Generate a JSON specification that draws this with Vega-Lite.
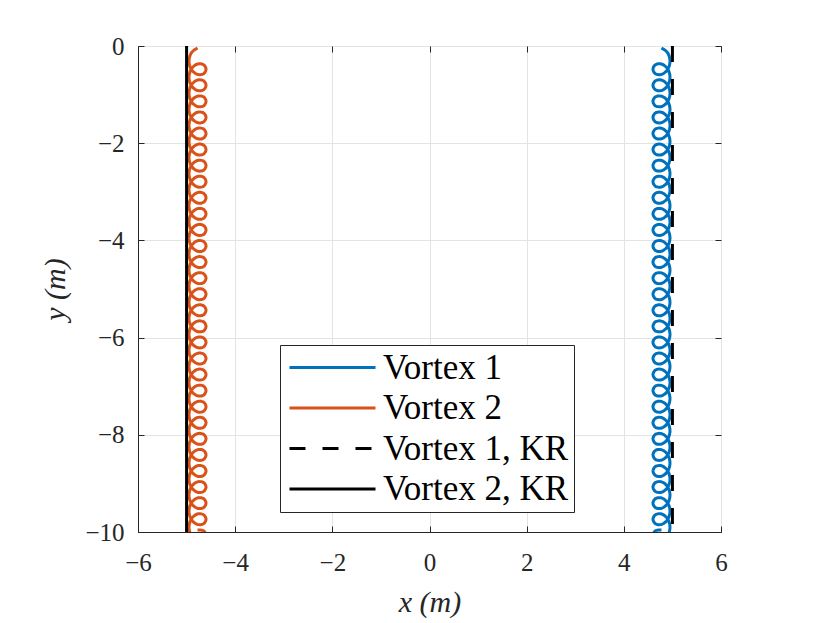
{
  "$schema": "https://vega.github.io/schema/vega-lite/v6.json",
  "width": 583,
  "height": 486,
  "autosize": {"type": "none"},
  "padding": {"left": 138, "top": 46, "right": 109, "bottom": 91},
  "background": "white",
  "config": {
    "view": {"stroke": "#262626", "strokeWidth": 1},
    "font": "Liberation Serif"
  },
  "datasets": {
    "loops": [
      {"k":0,"Vortex 1":4.775,"Vortex 2":-4.775,"y":-0.040},
      {"k":1,"Vortex 1":4.899,"Vortex 2":-4.899,"y":-0.137},
      {"k":2,"Vortex 1":4.95,"Vortex 2":-4.95,"y":-0.313},
      {"k":3,"Vortex 1":4.899,"Vortex 2":-4.899,"y":-0.488},
      {"k":4,"Vortex 1":4.775,"Vortex 2":-4.775,"y":-0.585},
      {"k":5,"Vortex 1":4.651,"Vortex 2":-4.651,"y":-0.571},
      {"k":6,"Vortex 1":4.6,"Vortex 2":-4.6,"y":-0.478},
      {"k":7,"Vortex 1":4.651,"Vortex 2":-4.651,"y":-0.385},
      {"k":8,"Vortex 1":4.775,"Vortex 2":-4.775,"y":-0.371},
      {"k":9,"Vortex 1":4.899,"Vortex 2":-4.899,"y":-0.468},
      {"k":10,"Vortex 1":4.95,"Vortex 2":-4.95,"y":-0.644},
      {"k":11,"Vortex 1":4.899,"Vortex 2":-4.899,"y":-0.819},
      {"k":12,"Vortex 1":4.775,"Vortex 2":-4.775,"y":-0.916},
      {"k":13,"Vortex 1":4.651,"Vortex 2":-4.651,"y":-0.902},
      {"k":14,"Vortex 1":4.6,"Vortex 2":-4.6,"y":-0.809},
      {"k":15,"Vortex 1":4.651,"Vortex 2":-4.651,"y":-0.716},
      {"k":16,"Vortex 1":4.775,"Vortex 2":-4.775,"y":-0.701},
      {"k":17,"Vortex 1":4.899,"Vortex 2":-4.899,"y":-0.798},
      {"k":18,"Vortex 1":4.95,"Vortex 2":-4.95,"y":-0.974},
      {"k":19,"Vortex 1":4.899,"Vortex 2":-4.899,"y":-1.149},
      {"k":20,"Vortex 1":4.775,"Vortex 2":-4.775,"y":-1.246},
      {"k":21,"Vortex 1":4.651,"Vortex 2":-4.651,"y":-1.232},
      {"k":22,"Vortex 1":4.6,"Vortex 2":-4.6,"y":-1.139},
      {"k":23,"Vortex 1":4.651,"Vortex 2":-4.651,"y":-1.046},
      {"k":24,"Vortex 1":4.775,"Vortex 2":-4.775,"y":-1.032},
      {"k":25,"Vortex 1":4.899,"Vortex 2":-4.899,"y":-1.129},
      {"k":26,"Vortex 1":4.95,"Vortex 2":-4.95,"y":-1.305},
      {"k":27,"Vortex 1":4.899,"Vortex 2":-4.899,"y":-1.480},
      {"k":28,"Vortex 1":4.775,"Vortex 2":-4.775,"y":-1.577},
      {"k":29,"Vortex 1":4.651,"Vortex 2":-4.651,"y":-1.563},
      {"k":30,"Vortex 1":4.6,"Vortex 2":-4.6,"y":-1.470},
      {"k":31,"Vortex 1":4.651,"Vortex 2":-4.651,"y":-1.377},
      {"k":32,"Vortex 1":4.775,"Vortex 2":-4.775,"y":-1.363},
      {"k":33,"Vortex 1":4.899,"Vortex 2":-4.899,"y":-1.460},
      {"k":34,"Vortex 1":4.95,"Vortex 2":-4.95,"y":-1.636},
      {"k":35,"Vortex 1":4.899,"Vortex 2":-4.899,"y":-1.811},
      {"k":36,"Vortex 1":4.775,"Vortex 2":-4.775,"y":-1.908},
      {"k":37,"Vortex 1":4.651,"Vortex 2":-4.651,"y":-1.894},
      {"k":38,"Vortex 1":4.6,"Vortex 2":-4.6,"y":-1.801},
      {"k":39,"Vortex 1":4.651,"Vortex 2":-4.651,"y":-1.708},
      {"k":40,"Vortex 1":4.775,"Vortex 2":-4.775,"y":-1.693},
      {"k":41,"Vortex 1":4.899,"Vortex 2":-4.899,"y":-1.790},
      {"k":42,"Vortex 1":4.95,"Vortex 2":-4.95,"y":-1.966},
      {"k":43,"Vortex 1":4.899,"Vortex 2":-4.899,"y":-2.141},
      {"k":44,"Vortex 1":4.775,"Vortex 2":-4.775,"y":-2.238},
      {"k":45,"Vortex 1":4.651,"Vortex 2":-4.651,"y":-2.224},
      {"k":46,"Vortex 1":4.6,"Vortex 2":-4.6,"y":-2.131},
      {"k":47,"Vortex 1":4.651,"Vortex 2":-4.651,"y":-2.038},
      {"k":48,"Vortex 1":4.775,"Vortex 2":-4.775,"y":-2.024},
      {"k":49,"Vortex 1":4.899,"Vortex 2":-4.899,"y":-2.121},
      {"k":50,"Vortex 1":4.95,"Vortex 2":-4.95,"y":-2.297},
      {"k":51,"Vortex 1":4.899,"Vortex 2":-4.899,"y":-2.472},
      {"k":52,"Vortex 1":4.775,"Vortex 2":-4.775,"y":-2.569},
      {"k":53,"Vortex 1":4.651,"Vortex 2":-4.651,"y":-2.555},
      {"k":54,"Vortex 1":4.6,"Vortex 2":-4.6,"y":-2.462},
      {"k":55,"Vortex 1":4.651,"Vortex 2":-4.651,"y":-2.369},
      {"k":56,"Vortex 1":4.775,"Vortex 2":-4.775,"y":-2.355},
      {"k":57,"Vortex 1":4.899,"Vortex 2":-4.899,"y":-2.452},
      {"k":58,"Vortex 1":4.95,"Vortex 2":-4.95,"y":-2.628},
      {"k":59,"Vortex 1":4.899,"Vortex 2":-4.899,"y":-2.803},
      {"k":60,"Vortex 1":4.775,"Vortex 2":-4.775,"y":-2.900},
      {"k":61,"Vortex 1":4.651,"Vortex 2":-4.651,"y":-2.886},
      {"k":62,"Vortex 1":4.6,"Vortex 2":-4.6,"y":-2.793},
      {"k":63,"Vortex 1":4.651,"Vortex 2":-4.651,"y":-2.700},
      {"k":64,"Vortex 1":4.775,"Vortex 2":-4.775,"y":-2.685},
      {"k":65,"Vortex 1":4.899,"Vortex 2":-4.899,"y":-2.782},
      {"k":66,"Vortex 1":4.95,"Vortex 2":-4.95,"y":-2.958},
      {"k":67,"Vortex 1":4.899,"Vortex 2":-4.899,"y":-3.133},
      {"k":68,"Vortex 1":4.775,"Vortex 2":-4.775,"y":-3.230},
      {"k":69,"Vortex 1":4.651,"Vortex 2":-4.651,"y":-3.216},
      {"k":70,"Vortex 1":4.6,"Vortex 2":-4.6,"y":-3.123},
      {"k":71,"Vortex 1":4.651,"Vortex 2":-4.651,"y":-3.030},
      {"k":72,"Vortex 1":4.775,"Vortex 2":-4.775,"y":-3.016},
      {"k":73,"Vortex 1":4.899,"Vortex 2":-4.899,"y":-3.113},
      {"k":74,"Vortex 1":4.95,"Vortex 2":-4.95,"y":-3.289},
      {"k":75,"Vortex 1":4.899,"Vortex 2":-4.899,"y":-3.464},
      {"k":76,"Vortex 1":4.775,"Vortex 2":-4.775,"y":-3.561},
      {"k":77,"Vortex 1":4.651,"Vortex 2":-4.651,"y":-3.547},
      {"k":78,"Vortex 1":4.6,"Vortex 2":-4.6,"y":-3.454},
      {"k":79,"Vortex 1":4.651,"Vortex 2":-4.651,"y":-3.361},
      {"k":80,"Vortex 1":4.775,"Vortex 2":-4.775,"y":-3.347},
      {"k":81,"Vortex 1":4.899,"Vortex 2":-4.899,"y":-3.444},
      {"k":82,"Vortex 1":4.95,"Vortex 2":-4.95,"y":-3.620},
      {"k":83,"Vortex 1":4.899,"Vortex 2":-4.899,"y":-3.795},
      {"k":84,"Vortex 1":4.775,"Vortex 2":-4.775,"y":-3.892},
      {"k":85,"Vortex 1":4.651,"Vortex 2":-4.651,"y":-3.878},
      {"k":86,"Vortex 1":4.6,"Vortex 2":-4.6,"y":-3.785},
      {"k":87,"Vortex 1":4.651,"Vortex 2":-4.651,"y":-3.692},
      {"k":88,"Vortex 1":4.775,"Vortex 2":-4.775,"y":-3.677},
      {"k":89,"Vortex 1":4.899,"Vortex 2":-4.899,"y":-3.774},
      {"k":90,"Vortex 1":4.95,"Vortex 2":-4.95,"y":-3.950},
      {"k":91,"Vortex 1":4.899,"Vortex 2":-4.899,"y":-4.125},
      {"k":92,"Vortex 1":4.775,"Vortex 2":-4.775,"y":-4.222},
      {"k":93,"Vortex 1":4.651,"Vortex 2":-4.651,"y":-4.208},
      {"k":94,"Vortex 1":4.6,"Vortex 2":-4.6,"y":-4.115},
      {"k":95,"Vortex 1":4.651,"Vortex 2":-4.651,"y":-4.022},
      {"k":96,"Vortex 1":4.775,"Vortex 2":-4.775,"y":-4.008},
      {"k":97,"Vortex 1":4.899,"Vortex 2":-4.899,"y":-4.105},
      {"k":98,"Vortex 1":4.95,"Vortex 2":-4.95,"y":-4.281},
      {"k":99,"Vortex 1":4.899,"Vortex 2":-4.899,"y":-4.456},
      {"k":100,"Vortex 1":4.775,"Vortex 2":-4.775,"y":-4.553},
      {"k":101,"Vortex 1":4.651,"Vortex 2":-4.651,"y":-4.539},
      {"k":102,"Vortex 1":4.6,"Vortex 2":-4.6,"y":-4.446},
      {"k":103,"Vortex 1":4.651,"Vortex 2":-4.651,"y":-4.353},
      {"k":104,"Vortex 1":4.775,"Vortex 2":-4.775,"y":-4.339},
      {"k":105,"Vortex 1":4.899,"Vortex 2":-4.899,"y":-4.436},
      {"k":106,"Vortex 1":4.95,"Vortex 2":-4.95,"y":-4.612},
      {"k":107,"Vortex 1":4.899,"Vortex 2":-4.899,"y":-4.787},
      {"k":108,"Vortex 1":4.775,"Vortex 2":-4.775,"y":-4.884},
      {"k":109,"Vortex 1":4.651,"Vortex 2":-4.651,"y":-4.870},
      {"k":110,"Vortex 1":4.6,"Vortex 2":-4.6,"y":-4.777},
      {"k":111,"Vortex 1":4.651,"Vortex 2":-4.651,"y":-4.684},
      {"k":112,"Vortex 1":4.775,"Vortex 2":-4.775,"y":-4.669},
      {"k":113,"Vortex 1":4.899,"Vortex 2":-4.899,"y":-4.766},
      {"k":114,"Vortex 1":4.95,"Vortex 2":-4.95,"y":-4.942},
      {"k":115,"Vortex 1":4.899,"Vortex 2":-4.899,"y":-5.117},
      {"k":116,"Vortex 1":4.775,"Vortex 2":-4.775,"y":-5.214},
      {"k":117,"Vortex 1":4.651,"Vortex 2":-4.651,"y":-5.200},
      {"k":118,"Vortex 1":4.6,"Vortex 2":-4.6,"y":-5.107},
      {"k":119,"Vortex 1":4.651,"Vortex 2":-4.651,"y":-5.014},
      {"k":120,"Vortex 1":4.775,"Vortex 2":-4.775,"y":-5.000},
      {"k":121,"Vortex 1":4.899,"Vortex 2":-4.899,"y":-5.097},
      {"k":122,"Vortex 1":4.95,"Vortex 2":-4.95,"y":-5.273},
      {"k":123,"Vortex 1":4.899,"Vortex 2":-4.899,"y":-5.448},
      {"k":124,"Vortex 1":4.775,"Vortex 2":-4.775,"y":-5.545},
      {"k":125,"Vortex 1":4.651,"Vortex 2":-4.651,"y":-5.531},
      {"k":126,"Vortex 1":4.6,"Vortex 2":-4.6,"y":-5.438},
      {"k":127,"Vortex 1":4.651,"Vortex 2":-4.651,"y":-5.345},
      {"k":128,"Vortex 1":4.775,"Vortex 2":-4.775,"y":-5.331},
      {"k":129,"Vortex 1":4.899,"Vortex 2":-4.899,"y":-5.428},
      {"k":130,"Vortex 1":4.95,"Vortex 2":-4.95,"y":-5.604},
      {"k":131,"Vortex 1":4.899,"Vortex 2":-4.899,"y":-5.779},
      {"k":132,"Vortex 1":4.775,"Vortex 2":-4.775,"y":-5.876},
      {"k":133,"Vortex 1":4.651,"Vortex 2":-4.651,"y":-5.862},
      {"k":134,"Vortex 1":4.6,"Vortex 2":-4.6,"y":-5.769},
      {"k":135,"Vortex 1":4.651,"Vortex 2":-4.651,"y":-5.676},
      {"k":136,"Vortex 1":4.775,"Vortex 2":-4.775,"y":-5.661},
      {"k":137,"Vortex 1":4.899,"Vortex 2":-4.899,"y":-5.758},
      {"k":138,"Vortex 1":4.95,"Vortex 2":-4.95,"y":-5.934},
      {"k":139,"Vortex 1":4.899,"Vortex 2":-4.899,"y":-6.109},
      {"k":140,"Vortex 1":4.775,"Vortex 2":-4.775,"y":-6.206},
      {"k":141,"Vortex 1":4.651,"Vortex 2":-4.651,"y":-6.192},
      {"k":142,"Vortex 1":4.6,"Vortex 2":-4.6,"y":-6.099},
      {"k":143,"Vortex 1":4.651,"Vortex 2":-4.651,"y":-6.006},
      {"k":144,"Vortex 1":4.775,"Vortex 2":-4.775,"y":-5.992},
      {"k":145,"Vortex 1":4.899,"Vortex 2":-4.899,"y":-6.089},
      {"k":146,"Vortex 1":4.95,"Vortex 2":-4.95,"y":-6.265},
      {"k":147,"Vortex 1":4.899,"Vortex 2":-4.899,"y":-6.440},
      {"k":148,"Vortex 1":4.775,"Vortex 2":-4.775,"y":-6.537},
      {"k":149,"Vortex 1":4.651,"Vortex 2":-4.651,"y":-6.523},
      {"k":150,"Vortex 1":4.6,"Vortex 2":-4.6,"y":-6.430},
      {"k":151,"Vortex 1":4.651,"Vortex 2":-4.651,"y":-6.337},
      {"k":152,"Vortex 1":4.775,"Vortex 2":-4.775,"y":-6.323},
      {"k":153,"Vortex 1":4.899,"Vortex 2":-4.899,"y":-6.420},
      {"k":154,"Vortex 1":4.95,"Vortex 2":-4.95,"y":-6.596},
      {"k":155,"Vortex 1":4.899,"Vortex 2":-4.899,"y":-6.771},
      {"k":156,"Vortex 1":4.775,"Vortex 2":-4.775,"y":-6.868},
      {"k":157,"Vortex 1":4.651,"Vortex 2":-4.651,"y":-6.854},
      {"k":158,"Vortex 1":4.6,"Vortex 2":-4.6,"y":-6.761},
      {"k":159,"Vortex 1":4.651,"Vortex 2":-4.651,"y":-6.668},
      {"k":160,"Vortex 1":4.775,"Vortex 2":-4.775,"y":-6.653},
      {"k":161,"Vortex 1":4.899,"Vortex 2":-4.899,"y":-6.750},
      {"k":162,"Vortex 1":4.95,"Vortex 2":-4.95,"y":-6.926},
      {"k":163,"Vortex 1":4.899,"Vortex 2":-4.899,"y":-7.101},
      {"k":164,"Vortex 1":4.775,"Vortex 2":-4.775,"y":-7.198},
      {"k":165,"Vortex 1":4.651,"Vortex 2":-4.651,"y":-7.184},
      {"k":166,"Vortex 1":4.6,"Vortex 2":-4.6,"y":-7.091},
      {"k":167,"Vortex 1":4.651,"Vortex 2":-4.651,"y":-6.998},
      {"k":168,"Vortex 1":4.775,"Vortex 2":-4.775,"y":-6.984},
      {"k":169,"Vortex 1":4.899,"Vortex 2":-4.899,"y":-7.081},
      {"k":170,"Vortex 1":4.95,"Vortex 2":-4.95,"y":-7.257},
      {"k":171,"Vortex 1":4.899,"Vortex 2":-4.899,"y":-7.432},
      {"k":172,"Vortex 1":4.775,"Vortex 2":-4.775,"y":-7.529},
      {"k":173,"Vortex 1":4.651,"Vortex 2":-4.651,"y":-7.515},
      {"k":174,"Vortex 1":4.6,"Vortex 2":-4.6,"y":-7.422},
      {"k":175,"Vortex 1":4.651,"Vortex 2":-4.651,"y":-7.329},
      {"k":176,"Vortex 1":4.775,"Vortex 2":-4.775,"y":-7.315},
      {"k":177,"Vortex 1":4.899,"Vortex 2":-4.899,"y":-7.412},
      {"k":178,"Vortex 1":4.95,"Vortex 2":-4.95,"y":-7.588},
      {"k":179,"Vortex 1":4.899,"Vortex 2":-4.899,"y":-7.763},
      {"k":180,"Vortex 1":4.775,"Vortex 2":-4.775,"y":-7.860},
      {"k":181,"Vortex 1":4.651,"Vortex 2":-4.651,"y":-7.846},
      {"k":182,"Vortex 1":4.6,"Vortex 2":-4.6,"y":-7.753},
      {"k":183,"Vortex 1":4.651,"Vortex 2":-4.651,"y":-7.660},
      {"k":184,"Vortex 1":4.775,"Vortex 2":-4.775,"y":-7.645},
      {"k":185,"Vortex 1":4.899,"Vortex 2":-4.899,"y":-7.742},
      {"k":186,"Vortex 1":4.95,"Vortex 2":-4.95,"y":-7.918},
      {"k":187,"Vortex 1":4.899,"Vortex 2":-4.899,"y":-8.093},
      {"k":188,"Vortex 1":4.775,"Vortex 2":-4.775,"y":-8.190},
      {"k":189,"Vortex 1":4.651,"Vortex 2":-4.651,"y":-8.176},
      {"k":190,"Vortex 1":4.6,"Vortex 2":-4.6,"y":-8.083},
      {"k":191,"Vortex 1":4.651,"Vortex 2":-4.651,"y":-7.990},
      {"k":192,"Vortex 1":4.775,"Vortex 2":-4.775,"y":-7.976},
      {"k":193,"Vortex 1":4.899,"Vortex 2":-4.899,"y":-8.073},
      {"k":194,"Vortex 1":4.95,"Vortex 2":-4.95,"y":-8.249},
      {"k":195,"Vortex 1":4.899,"Vortex 2":-4.899,"y":-8.424},
      {"k":196,"Vortex 1":4.775,"Vortex 2":-4.775,"y":-8.521},
      {"k":197,"Vortex 1":4.651,"Vortex 2":-4.651,"y":-8.507},
      {"k":198,"Vortex 1":4.6,"Vortex 2":-4.6,"y":-8.414},
      {"k":199,"Vortex 1":4.651,"Vortex 2":-4.651,"y":-8.321},
      {"k":200,"Vortex 1":4.775,"Vortex 2":-4.775,"y":-8.307},
      {"k":201,"Vortex 1":4.899,"Vortex 2":-4.899,"y":-8.404},
      {"k":202,"Vortex 1":4.95,"Vortex 2":-4.95,"y":-8.580},
      {"k":203,"Vortex 1":4.899,"Vortex 2":-4.899,"y":-8.755},
      {"k":204,"Vortex 1":4.775,"Vortex 2":-4.775,"y":-8.852},
      {"k":205,"Vortex 1":4.651,"Vortex 2":-4.651,"y":-8.838},
      {"k":206,"Vortex 1":4.6,"Vortex 2":-4.6,"y":-8.745},
      {"k":207,"Vortex 1":4.651,"Vortex 2":-4.651,"y":-8.652},
      {"k":208,"Vortex 1":4.775,"Vortex 2":-4.775,"y":-8.637},
      {"k":209,"Vortex 1":4.899,"Vortex 2":-4.899,"y":-8.734},
      {"k":210,"Vortex 1":4.95,"Vortex 2":-4.95,"y":-8.910},
      {"k":211,"Vortex 1":4.899,"Vortex 2":-4.899,"y":-9.085},
      {"k":212,"Vortex 1":4.775,"Vortex 2":-4.775,"y":-9.182},
      {"k":213,"Vortex 1":4.651,"Vortex 2":-4.651,"y":-9.168},
      {"k":214,"Vortex 1":4.6,"Vortex 2":-4.6,"y":-9.075},
      {"k":215,"Vortex 1":4.651,"Vortex 2":-4.651,"y":-8.982},
      {"k":216,"Vortex 1":4.775,"Vortex 2":-4.775,"y":-8.968},
      {"k":217,"Vortex 1":4.899,"Vortex 2":-4.899,"y":-9.065},
      {"k":218,"Vortex 1":4.95,"Vortex 2":-4.95,"y":-9.241},
      {"k":219,"Vortex 1":4.899,"Vortex 2":-4.899,"y":-9.416},
      {"k":220,"Vortex 1":4.775,"Vortex 2":-4.775,"y":-9.513},
      {"k":221,"Vortex 1":4.651,"Vortex 2":-4.651,"y":-9.499},
      {"k":222,"Vortex 1":4.6,"Vortex 2":-4.6,"y":-9.406},
      {"k":223,"Vortex 1":4.651,"Vortex 2":-4.651,"y":-9.313},
      {"k":224,"Vortex 1":4.775,"Vortex 2":-4.775,"y":-9.299},
      {"k":225,"Vortex 1":4.899,"Vortex 2":-4.899,"y":-9.396},
      {"k":226,"Vortex 1":4.95,"Vortex 2":-4.95,"y":-9.572},
      {"k":227,"Vortex 1":4.899,"Vortex 2":-4.899,"y":-9.747},
      {"k":228,"Vortex 1":4.775,"Vortex 2":-4.775,"y":-9.844},
      {"k":229,"Vortex 1":4.651,"Vortex 2":-4.651,"y":-9.830},
      {"k":230,"Vortex 1":4.6,"Vortex 2":-4.6,"y":-9.737},
      {"k":231,"Vortex 1":4.651,"Vortex 2":-4.651,"y":-9.644},
      {"k":232,"Vortex 1":4.775,"Vortex 2":-4.775,"y":-9.629},
      {"k":233,"Vortex 1":4.899,"Vortex 2":-4.899,"y":-9.726},
      {"k":234,"Vortex 1":4.95,"Vortex 2":-4.95,"y":-9.902},
      {"k":235,"Vortex 1":4.899,"Vortex 2":-4.899,"y":-10.077},
      {"k":236,"Vortex 1":4.775,"Vortex 2":-4.775,"y":-10.174},
      {"k":237,"Vortex 1":4.651,"Vortex 2":-4.651,"y":-10.160},
      {"k":238,"Vortex 1":4.6,"Vortex 2":-4.6,"y":-10.067},
      {"k":239,"Vortex 1":4.651,"Vortex 2":-4.651,"y":-9.974},
      {"k":240,"Vortex 1":4.775,"Vortex 2":-4.775,"y":-9.960}
    ],
    "kr": [
      {"s": "Vortex 1, KR", "x": 5, "y": 0},
      {"s": "Vortex 1, KR", "x": 5, "y": -10},
      {"s": "Vortex 2, KR", "x": -5, "y": 0},
      {"s": "Vortex 2, KR", "x": -5, "y": -10}
    ]
  },
  "layer": [
    {
      "data": {"name": "loops"},
      "transform": [{"fold": ["Vortex 1", "Vortex 2"], "as": ["s", "x"]}],
      "mark": {"type": "line", "interpolate": "catmull-rom", "strokeWidth": 3, "clip": true},
      "encoding": {
        "x": {
          "field": "x",
          "type": "quantitative",
          "scale": {"domain": [-6, 6], "nice": false, "zero": false},
          "axis": {
            "values": [-6, -4, -2, 0, 2, 4, 6],
            "labelExpr": "datum.value < 0 ? '−' + abs(datum.value) : '' + datum.value",
            "title": "x (m)",
            "titleFont": "Liberation Serif",
            "titleFontSize": 30,
            "titleFontStyle": "italic",
            "titleFontWeight": "normal",
            "titleColor": "#262626",
            "titlePadding": 12,
            "labelFont": "Liberation Serif",
            "labelFontSize": 25,
            "labelColor": "#262626",
            "labelPadding": 24,
            "labelFlush": false,
            "tickSize": -6,
            "tickColor": "#262626",
            "domainColor": "#262626",
            "gridColor": "#e3e3e3"
          }
        },
        "y": {
          "field": "y",
          "type": "quantitative",
          "scale": {"domain": [-10, 0], "nice": false, "zero": false},
          "axis": {
            "values": [-10, -8, -6, -4, -2, 0],
            "labelExpr": "datum.value < 0 ? '−' + abs(datum.value) : '' + datum.value",
            "title": "y (m)",
            "titleFont": "Liberation Serif",
            "titleFontSize": 30,
            "titleFontStyle": "italic",
            "titleFontWeight": "normal",
            "titleColor": "#262626",
            "titlePadding": 14,
            "labelFont": "Liberation Serif",
            "labelFontSize": 25,
            "labelColor": "#262626",
            "labelPadding": 20,
            "labelFlush": false,
            "tickSize": -6,
            "tickColor": "#262626",
            "domainColor": "#262626",
            "gridColor": "#e3e3e3"
          }
        },
        "order": {"field": "k", "type": "quantitative"},
        "color": {
          "field": "s",
          "type": "nominal",
          "scale": {
            "domain": ["Vortex 1", "Vortex 2", "Vortex 1, KR", "Vortex 2, KR"],
            "range": ["#0072BD", "#D95319", "#000000", "#000000"]
          },
          "legend": {
            "title": null,
            "orient": "none",
            "legendX": 142,
            "legendY": 299,
            "symbolType": "M-5,0H5",
            "symbolSize": 296,
            "symbolStrokeWidth": 3,
            "symbolOffset": 30,
            "labelFont": "Liberation Serif",
            "labelFontSize": 35,
            "labelColor": "#000000",
            "labelOffset": 33,
            "labelLimit": 400,
            "rowPadding": 4.5,
            "padding": 5,
            "strokeColor": "#262626",
            "fillColor": "white"
          }
        },
        "strokeDash": {
          "field": "s",
          "type": "nominal",
          "scale": {
            "domain": ["Vortex 1", "Vortex 2", "Vortex 1, KR", "Vortex 2, KR"],
            "range": [[1, 0], [1, 0], [16, 17], [1, 0]]
          },
          "legend": {
            "title": null,
            "orient": "none",
            "legendX": 142,
            "legendY": 299,
            "symbolType": "M-5,0H5",
            "symbolSize": 296,
            "symbolStrokeWidth": 3,
            "symbolOffset": 30,
            "labelFont": "Liberation Serif",
            "labelFontSize": 35,
            "labelColor": "#000000",
            "labelOffset": 33,
            "labelLimit": 400,
            "rowPadding": 4.5,
            "padding": 5,
            "strokeColor": "#262626",
            "fillColor": "white"
          }
        }
      }
    },
    {
      "data": {"name": "kr"},
      "mark": {"type": "line", "strokeWidth": 3},
      "encoding": {
        "x": {
          "field": "x",
          "type": "quantitative",
          "axis": {
            "orient": "top",
            "values": [-6, -4, -2, 0, 2, 4, 6],
            "labels": false,
            "title": null,
            "grid": false,
            "domain": false,
            "tickSize": -6,
            "tickColor": "#262626"
          }
        },
        "y": {
          "field": "y",
          "type": "quantitative",
          "axis": {
            "orient": "right",
            "values": [-10, -8, -6, -4, -2, 0],
            "labels": false,
            "title": null,
            "grid": false,
            "domain": false,
            "tickSize": -6,
            "tickColor": "#262626"
          }
        },
        "color": {"field": "s", "type": "nominal"},
        "strokeDash": {"field": "s", "type": "nominal"}
      }
    }
  ],
  "resolve": {"axis": {"x": "independent", "y": "independent"}}
}
